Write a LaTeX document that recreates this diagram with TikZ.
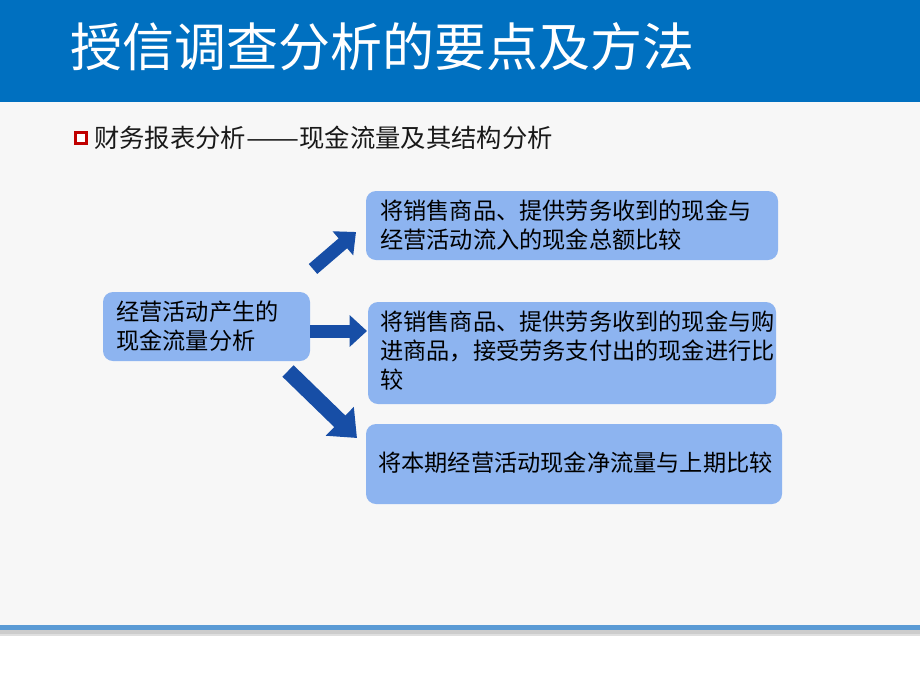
\documentclass[tikz,border=0pt]{standalone}
\usepackage{fontspec}
\usepackage{graphicx}
\setmainfont{Noto Sans CJK SC}
\usetikzlibrary{arrows.meta}
\definecolor{hdrblue}{HTML}{0070C0}
\definecolor{bggray}{HTML}{F7F7F7}
\definecolor{boxblue}{HTML}{8DB4F0}
\definecolor{arrblue}{HTML}{174EA6}
\definecolor{lineblue}{HTML}{5B9BD5}
\definecolor{bulletred}{HTML}{C00000}
\tikzset{
  box/.style={rectangle, rounded corners=7.5pt, fill=boxblue, draw=none, inner sep=0pt},
  txt/.style={anchor=west, align=left, inner sep=0pt, font=\fontsize{17.4pt}{21.75pt}\selectfont, text=black},
  blockarrow/.style={draw=arrblue, line width=#1, -{Triangle[length=13pt, width=23pt]}},
}
\begin{document}
\begin{tikzpicture}[x=0.75pt,y=-0.75pt]
\useasboundingbox (0,0) rectangle (920,690);
% backgrounds
\fill[white] (0,0) rectangle (920,690);
\fill[bggray] (0,102) rectangle (920,625);
\fill[hdrblue] (0,0) rectangle (920,102);
\fill[gray!40] (0,629) rectangle (920,634);
\fill[gray!25] (0,634) rectangle (920,636);
\fill[lineblue] (0,625) rectangle (920,630);
% title
\node[anchor=west, inner sep=0pt, text=white, font=\fontsize{39pt}{44pt}\selectfont] (title) at (70,47) {授信调查分析的要点及方法};
% subtitle
\node[draw=bulletred, line width=2.4pt, fill=white, minimum size=8.5pt, inner sep=0pt] (bullet) at (81,138) {};
\node[anchor=west, inner sep=0pt, text=black!90, font=\fontsize{19pt}{23pt}\selectfont] (sub) at (94,138) {财务报表分析\scalebox{1.25}[1]{——}现金流量及其结构分析};
% boxes
\node[box, minimum width=155.25pt, minimum height=51.75pt] (src) at (206.5,326.5) {};
\node[box, minimum width=309pt, minimum height=51.75pt] (b1) at (572,225.5) {};
\node[box, minimum width=306pt, minimum height=76.5pt] (b2) at (572,353) {};
\node[box, minimum width=312pt, minimum height=60pt] (b3) at (574,464) {};
% texts
\node[txt] (srct) at (116,326) {经营活动产生的\\现金流量分析};
\node[txt] (b1t) at (380,225.5) {将销售商品、提供劳务收到的现金与\\经营活动流入的现金总额比较};
\node[txt] (b2t) at (380,351) {将销售商品、提供劳务收到的现金与购\\进商品，接受劳务支付出的现金进行比\\较};
\node[txt] (b3t) at (378,463) {将本期经营活动现金净流量与上期比较};
% arrow ends
\coordinate (a1s) at (313,269);
\coordinate (a1e) at (356,232);
\coordinate (a2s) at (310,331);
\coordinate (a2e) at (367,331);
\coordinate (a3s) at (288,371);
\coordinate (a3e) at (357,438);
\draw[blockarrow=9.75pt] (a1s) -- (a1e);
\draw[blockarrow=9.75pt] (a2s) -- (a2e);
\draw[draw=arrblue, line width=12pt, -{Triangle[length=18pt, width=29pt]}] (a3s) -- (a3e);
\end{tikzpicture}
\end{document}
